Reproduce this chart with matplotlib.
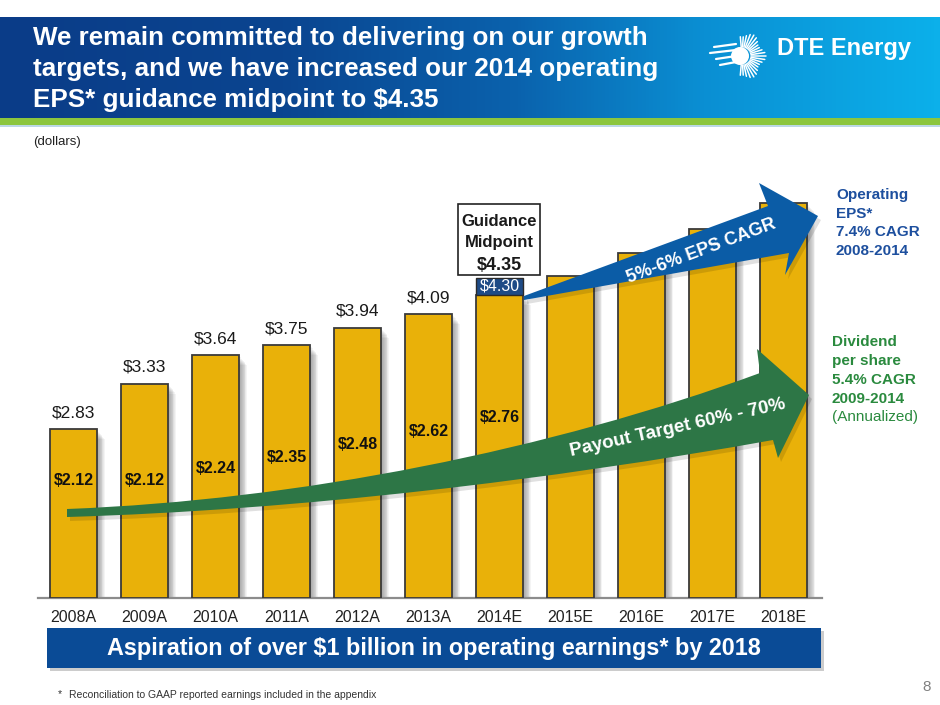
import numpy as np
import matplotlib.pyplot as plt
from matplotlib.patches import Rectangle, PathPatch
from matplotlib.path import Path
from matplotlib.colors import LinearSegmentedColormap

plt.rcParams["font.family"] = ["Liberation Sans", "DejaVu Sans"]

# Data
years = ["2008A", "2009A", "2010A", "2011A", "2012A", "2013A", "2014E",
         "2015E", "2016E", "2017E", "2018E"]
eps = [2.83, 3.33, 3.64, 3.75, 3.94, 4.09, 4.30, 4.50, 4.76, 5.02, 5.30]
eps_labels = ["$2.83", "$3.33", "$3.64", "$3.75", "$3.94", "$4.09", "$4.30"]
dividends = [2.12, 2.12, 2.24, 2.35, 2.48, 2.62, 2.76]
div_labels = ["$2.12", "$2.12", "$2.24", "$2.35", "$2.48", "$2.62", "$2.76"]
guidance_label = "$4.35"

title_lines = ["We remain committed to delivering on our growth",
               "targets, and we have increased our 2014 operating",
               "EPS* guidance midpoint to $4.35"]

GOLD = "#E9B109"
BLUE_ARROW = "#0b5ca6"
GREEN_ARROW = "#2d7646"

W, H = 940, 705
fig = plt.figure(figsize=(W / 100, H / 100), dpi=100)

# ---- bar chart ----
ax = fig.add_axes([38 / W, 1 - 598 / H, 784 / W, 428 / H])
y0 = 0.99
px_y = 91.6  # pixels per dollar on the slide
ax.set_xlim(-0.5, 10.54)
ax.set_ylim(y0, y0 + 428 / px_y)
ax.patch.set_visible(False)

x = np.arange(len(years))
w = 0.66
heights = np.array(eps) - y0

# soft shadow to the right of the bars
for k in range(1, 10):
    ax.bar(x + k * 0.013, heights - k * 0.012, w, bottom=y0,
           color="black", alpha=0.045, lw=0, zorder=1)
ax.bar(x, heights, w, bottom=y0, color=GOLD, edgecolor="#3a3a3a", lw=1.3, zorder=3)

for s in ["left", "top", "right"]:
    ax.spines[s].set_visible(False)
ax.spines["bottom"].set_color("#8c8c8c")
ax.spines["bottom"].set_linewidth(1.6)
ax.set_yticks([])
ax.set_xticks(x, years)
ax.tick_params(axis="x", length=0, pad=9, labelsize=11.5, labelcolor="#222222")

# EPS values above bars
for i, lab in enumerate(eps_labels[:6]):
    ax.annotate(lab, (i, eps[i]), xytext=(0, 8.6), textcoords="offset points",
                ha="center", va="baseline", fontsize=12.5, color="#1a1a1a")

# 2014E cap box
cap_h = 17 / px_y
ax.add_patch(Rectangle((6 - w / 2, eps[6]), w, cap_h, fc="#1e4b86", ec="#2a2a2a",
                       lw=1.0, zorder=4))
ax.text(6, eps[6] + cap_h / 2, eps_labels[6], color="white", ha="center",
        va="center", fontsize=11.5, zorder=5)

# guidance midpoint box
gb = eps[6] + cap_h + 0.03
ax.add_patch(Rectangle((6 - 0.58, gb), 1.155, 0.774, fc="white", ec="#222222",
                       lw=1.2, zorder=4, clip_on=False))
ax.text(5.99, gb + 0.59, "Guidance", ha="center", va="center", fontsize=12,
        fontweight="bold", color="#1a1a1a", zorder=5)
ax.text(5.99, gb + 0.36, "Midpoint", ha="center", va="center", fontsize=12,
        fontweight="bold", color="#1a1a1a", zorder=5)
ax.text(5.99, gb + 0.10, guidance_label, ha="center", va="center", fontsize=13,
        fontweight="bold", color="#1a1a1a", zorder=5)

# dividend values inside bars
for i, (d, lab) in enumerate(zip(dividends, div_labels)):
    ax.text(i, d * 1.073, lab, ha="center", va="center", fontsize=11.5,
            fontweight="bold", color="#111111", zorder=5)

# ---- overlay in slide pixels for decorations ----
deco = fig.add_axes([0, 0, 1, 1])
deco.patch.set_alpha(0)

hdr = LinearSegmentedColormap.from_list(
    "hdr", [(0, "#0a3c88"), (0.3, "#0a4590"), (0.55, "#0a62ad"),
            (0.75, "#0a8fd3"), (1, "#0cb0ea")])
deco.imshow(np.linspace(0, 1, 256)[None, :], extent=(0, W, 118, 17), cmap=hdr,
            aspect="auto", interpolation="bicubic", zorder=0)
deco.add_patch(Rectangle((0, 118), W, 7, fc="#8CC63E", lw=0, zorder=1))
deco.add_patch(Rectangle((0, 125), W, 1.5, fc="#bcd8e6", lw=0, zorder=1))

for line, yb in zip(title_lines, [45, 76, 107]):
    deco.text(33, yb, line, color="white", fontsize=18.7, fontweight="bold",
              va="baseline", ha="left", zorder=3)

# logo: small sunburst + wordmark
cx, cy = 742, 56
for a in np.linspace(-95, 95, 23):
    t = np.radians(a)
    r1, r2 = 9, 19 + 5 * np.cos(3 * t) ** 2
    deco.plot([cx + r1 * np.cos(t), cx + r2 * np.cos(t)],
              [cy + r1 * np.sin(t), cy + r2 * np.sin(t)],
              color="white", lw=1.1, solid_capstyle="round", zorder=3)
deco.add_patch(plt.Circle((cx - 2, cy), 9, fc="white", lw=0, zorder=3))
for dy, ln in [(-12, 22), (-6, 26), (0, 20), (6, 16)]:
    deco.plot([cx - 6 - ln, cx - 6], [cy + dy + 3, cy + dy], color="white",
              lw=1.6, solid_capstyle="round", zorder=3)
deco.text(777, 49, "DTE Energy", color="white", fontsize=17, fontweight="bold",
          va="center", ha="left", zorder=3)

deco.text(33, 142, "(dollars)", fontsize=9.5, color="#222222", va="center")

# blue growth arrow (EPS)
blue = [(524, 296), (768, 206), (759, 183), (818, 216), (785, 275), (789, 253),
        (524, 300)]
deco.add_patch(plt.Polygon([(a + 3, b + 4) for a, b in blue], fc="black",
                           alpha=0.12, lw=0, zorder=4))
deco.add_patch(plt.Polygon(blue, fc=BLUE_ARROW, lw=0, zorder=5))
deco.text(701, 251, "5%-6% EPS CAGR", rotation=20.5, rotation_mode="anchor",
          ha="center", va="center", color="white", fontsize=13,
          fontweight="bold", zorder=6)

# green curved arrow (dividend payout)
gv = [(67, 509), (300, 500), (550, 450), (760, 373), (757, 349), (809, 395),
      (778, 458), (773, 440), (550, 480), (300, 510), (67, 517), (67, 509)]
gc = [Path.MOVETO, Path.CURVE4, Path.CURVE4, Path.CURVE4, Path.LINETO,
      Path.LINETO, Path.LINETO, Path.LINETO, Path.CURVE4, Path.CURVE4,
      Path.CURVE4, Path.CLOSEPOLY]
deco.add_patch(PathPatch(Path([(a + 3, b + 4) for a, b in gv], gc), fc="black",
                         alpha=0.12, lw=0, zorder=4))
deco.add_patch(PathPatch(Path(gv, gc), fc=GREEN_ARROW, lw=0, zorder=5))
deco.text(678, 428, "Payout Target 60% - 70%", rotation=12.5, rotation_mode="anchor",
          ha="center", va="center", color="white", fontsize=13.5,
          fontweight="bold", zorder=6)

# side notes
for txt, yy in zip(["Operating", "EPS*", "7.4% CAGR", "2008-2014"],
                   [195, 213.7, 232.4, 251]):
    deco.text(836, yy, txt, color="#1d4f9e", fontsize=11, fontweight="bold",
              va="center", ha="left")
for txt, yy, wt in zip(["Dividend", "per share", "5.4% CAGR", "2009-2014", "(Annualized)"],
                       [342, 361, 380, 399, 417],
                       ["bold", "bold", "bold", "bold", "normal"]):
    deco.text(832, yy, txt, color="#2a8a3e", fontsize=11, fontweight=wt,
              va="center", ha="left")

# bottom banner
deco.add_patch(Rectangle((50, 631), 774, 40, fc="black", alpha=0.2, lw=0, zorder=1))
deco.add_patch(Rectangle((47, 628), 774, 40, fc="#0a4b96", lw=0, zorder=2))
deco.text(434, 649, "Aspiration of over $1 billion in operating earnings* by 2018",
          color="white", fontsize=16.8, fontweight="bold", ha="center", va="center",
          zorder=3)

deco.text(58, 694, "*", fontsize=7.5, color="#333333", va="center")
deco.text(69, 695, "Reconciliation to GAAP reported earnings included in the appendix",
          fontsize=7.5, color="#333333", va="center")
deco.text(927, 687, "8", fontsize=11, color="#808080", va="center", ha="center")

deco.set_xlim(0, W)
deco.set_ylim(H, 0)
deco.axis("off")

fig.savefig("out.png", dpi=100)
